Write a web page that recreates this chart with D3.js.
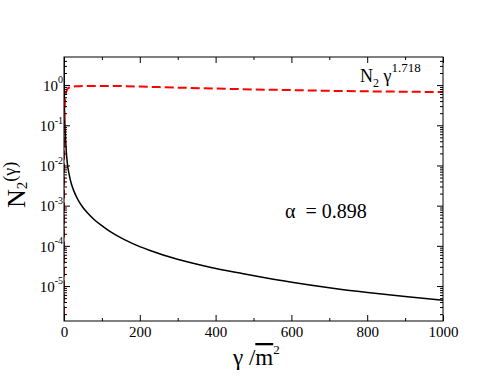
<!DOCTYPE html>
<html>
<head>
<meta charset="utf-8">
<script src="https://cdn.jsdelivr.net/npm/d3@7"></script>
<style>
  body { margin: 0; background: #fff; }
  svg text { font-family: "Liberation Serif", "Times New Roman", serif; fill: #000; }
</style>
</head>
<body>
<div id="chart"></div>
<script>
// N2(gamma), solid black curve
const blackGamma = [0.05, 0.2, 0.5, 1, 2, 3.4, 5, 8.7, 13, 19, 27, 37, 50, 63, 80, 98, 120, 142, 180, 227, 297, 385, 473, 534, 601, 700, 801, 900, 1000];
const blackN2 = [60, 8, 1.2, 0.35, 0.13, 0.063, 0.032, 0.0114, 0.0064, 0.0036, 0.0022, 0.0014, 9.0e-4, 6.47e-4, 4.47e-4, 3.27e-4, 2.32e-4, 1.74e-4, 1.15e-4, 7.66e-5, 4.69e-5, 2.94e-5, 2.03e-5, 1.59e-5, 1.25e-5, 9.1e-6, 6.9e-6, 5.46e-6, 4.4e-6];

// N2 * gamma^1.718, red dashed curve
const redGamma = [0.0001, 0.001, 0.01, 0.05, 0.2, 0.5, 1, 2, 3, 5, 7, 10, 15, 20, 30, 40, 60, 80, 100, 150, 200, 300, 400, 500, 600, 700, 800, 900, 1000];
const redN2 = [1e-8, 1e-6, 3e-5, 4e-4, 0.005, 0.04, 0.2, 0.33, 0.45, 0.62, 0.73, 0.82, 0.88, 0.91, 0.93, 0.94, 0.95, 0.955, 0.955, 0.945, 0.92, 0.865, 0.82, 0.78, 0.75, 0.72, 0.70, 0.685, 0.67];

// axis ticks
const xMajor = [0, 200, 400, 600, 800, 1000];
const xMinor = [100, 300, 500, 700, 900];
const yExp = [0, -1, -2, -3, -4, -5];
const yDomain = [1.35e-6, 5];

const width = 491, height = 379;
const margin = { top: 57, right: 48, bottom: 58, left: 64 };
const serif = '"Liberation Serif", "Times New Roman", serif';

const svg = d3.select("#chart").append("svg")
    .attr("width", width)
    .attr("height", height)
    .style("font-family", serif);

const x = d3.scaleLinear().domain([0, 1000]).range([margin.left, width - margin.right]);
const y = d3.scaleLog().domain(yDomain).range([height - margin.bottom, margin.top]);

// minor log ticks 2..9 per decade
const yMajor = yExp.map(e => Math.pow(10, e));
const yMinor = [];
for (let e = -6; e <= 0; e++) {
    for (let m = 2; m <= 9; m++) {
        const v = m * Math.pow(10, e);
        if (v > yDomain[0] && v < yDomain[1]) yMinor.push(v);
    }
}

svg.append("clipPath").attr("id", "clip")
  .append("rect")
    .attr("x", margin.left).attr("y", margin.top)
    .attr("width", x.range()[1] - margin.left)
    .attr("height", y.range()[0] - margin.top);

const line = d3.line()
    .x(d => x(d[0]))
    .y(d => y(d[1]))
    .curve(d3.curveMonotoneX);

svg.append("path")
    .datum(blackGamma.map((g, i) => [g, blackN2[i]]))
    .attr("clip-path", "url(#clip)")
    .attr("fill", "none")
    .attr("stroke", "#000")
    .attr("stroke-width", 1.5)
    .attr("d", line);

svg.append("path")
    .datum(redGamma.map((g, i) => [g, redN2[i]]))
    .attr("clip-path", "url(#clip)")
    .attr("fill", "none")
    .attr("stroke", "#ff0000")
    .attr("stroke-width", 2)
    .attr("stroke-dasharray", "9,4")
    .attr("d", line);

// axes: ticks point inward on all four sides
function tickAxis(axis, tx, ty) {
    const g = svg.append("g").attr("transform", `translate(${tx},${ty})`).call(axis);
    g.attr("font-family", null).style("font-family", serif);
    g.select(".domain").remove();
    g.selectAll("line").attr("stroke", "#000");
    return g;
}

const yBottom = y.range()[0], xRight = x.range()[1];

const xAxis = tickAxis(d3.axisBottom(x).tickValues(xMajor).tickSize(-6).tickPadding(5).tickFormat(d3.format("d")), 0, yBottom);
xAxis.selectAll("text").attr("font-size", 15);
tickAxis(d3.axisBottom(x).tickValues(xMinor).tickSize(-3).tickFormat(""), 0, yBottom);
tickAxis(d3.axisTop(x).tickValues(xMajor).tickSize(-6).tickFormat(""), 0, margin.top);
tickAxis(d3.axisTop(x).tickValues(xMinor).tickSize(-3).tickFormat(""), 0, margin.top);

const yAxis = tickAxis(d3.axisLeft(y).tickValues(yMajor).tickSize(-6).tickPadding(1).tickFormat(""), margin.left, 0);
yAxis.selectAll(".tick text")
    .attr("font-size", 15)
    .attr("dy", "0.35em")
    .each(function(d) {
        const t = d3.select(this);
        t.append("tspan").text("10");
        t.append("tspan").attr("font-size", 10).attr("dy", "-0.75em").text(Math.round(Math.log10(d)));
    });
tickAxis(d3.axisLeft(y).tickValues(yMinor).tickSize(-3).tickFormat(""), margin.left, 0);
tickAxis(d3.axisRight(y).tickValues(yMajor).tickSize(-6).tickFormat(""), xRight, 0);
tickAxis(d3.axisRight(y).tickValues(yMinor).tickSize(-3).tickFormat(""), xRight, 0);

// frame
svg.append("rect")
    .attr("x", margin.left).attr("y", margin.top)
    .attr("width", xRight - margin.left)
    .attr("height", yBottom - margin.top)
    .attr("fill", "none")
    .attr("stroke", "#000")
    .attr("stroke-width", 1);

// x axis title: gamma / m-bar^2
const xt = svg.append("text").attr("x", 233).attr("y", 365).attr("font-size", 23);
xt.append("tspan").text("γ /");
xt.append("tspan").style("text-decoration", "overline").text("m");
xt.append("tspan").attr("font-size", 13).attr("dy", -11).text("2");

// y axis title: N_2(gamma)
const yt = svg.append("text").attr("transform", "translate(25,208) rotate(-90)").attr("font-size", 26);
yt.append("tspan").text("N");
yt.append("tspan").attr("font-size", 15).attr("dy", 2).text("2");
yt.append("tspan").attr("font-size", 18).attr("dy", -11).text("(γ)");

// legend label for the dashed curve
const lg = svg.append("text").attr("x", 360).attr("y", 82).attr("font-size", 18);
lg.append("tspan").text("N");
lg.append("tspan").attr("font-size", 12).attr("dy", 5).text("2");
lg.append("tspan").attr("dy", -5).text(" γ");
lg.append("tspan").attr("font-size", 13).attr("dy", -10).text("1.718");

svg.append("text")
    .attr("x", 285).attr("y", 218)
    .attr("font-size", 20)
    .style("white-space", "pre")
    .text("α  = 0.898");
</script>
</body>
</html>
